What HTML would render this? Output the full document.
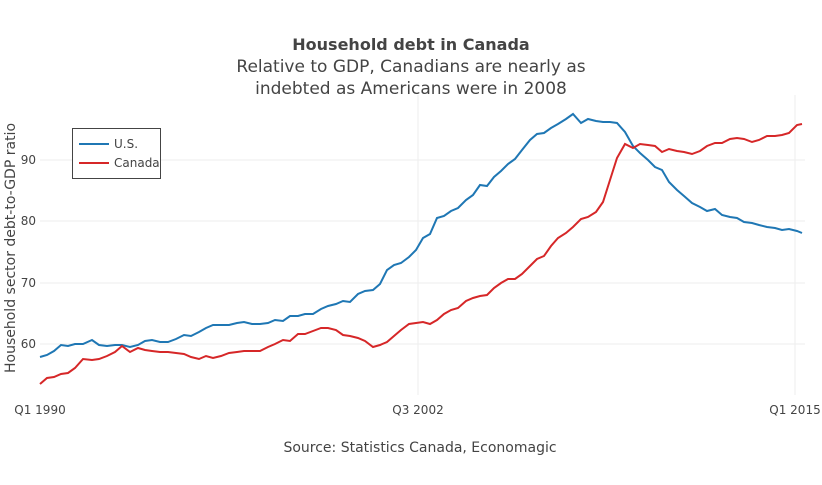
<!DOCTYPE html>
<html><head><meta charset="utf-8"><style>
body{margin:0;background:#fff;}
svg text{font-family:"DejaVu Sans","Liberation Sans",sans-serif;}
</style></head><body>
<svg width="822" height="480" xmlns="http://www.w3.org/2000/svg">
<rect width="822" height="480" fill="#fff"/>
<g stroke="#eee" stroke-width="1">
<line x1="40" x2="805" y1="160" y2="160"/>
<line x1="40" x2="805" y1="221" y2="221"/>
<line x1="40" x2="805" y1="283" y2="283"/>
<line x1="40" x2="805" y1="344" y2="344"/>
<line x1="418" x2="418" y1="95" y2="395"/>
<line x1="795" x2="795" y1="95" y2="395"/>
</g>
<text x="411" y="50" text-anchor="middle" font-size="16" font-weight="bold" fill="#444">Household debt in Canada</text>
<text x="411" y="72" text-anchor="middle" font-size="17" fill="#444">Relative to GDP, Canadians are nearly as</text>
<text x="411" y="94" text-anchor="middle" font-size="17" fill="#444">indebted as Americans were in 2008</text>
<g font-size="12" fill="#444" text-anchor="end">
<text x="36" y="164">90</text><text x="36" y="225">80</text><text x="36" y="287">70</text><text x="36" y="348">60</text>
</g>
<g font-size="12" fill="#444" text-anchor="middle">
<text x="40" y="414">Q1 1990</text><text x="418" y="414">Q3 2002</text><text x="795" y="414">Q1 2015</text>
</g>
<text transform="translate(15,248) rotate(-90)" text-anchor="middle" font-size="14" fill="#444">Household sector debt-to-GDP ratio</text>
<text x="420" y="452" text-anchor="middle" font-size="14" fill="#444">Source: Statistics Canada, Economagic</text>
<polyline fill="none" stroke="#1f77b4" stroke-width="2" points="40,357 47,355 54,351 61,345 68,346 75,344 83,344 92,340 99,345 107,346 115,345 122,345 130,347 138,345 145,341 152,340 160,342 168,342 176,339 184,335 191,336 199,332 206,328 213,325 221,325 229,325 237,323 244,322 252,324 260,324 268,323 275,320 283,321 290,316 298,316 305,314 313,314 321,309 328,306 336,304 343,301 350,302 358,294 365,291 373,290 380,284 387,270 394,265 401,263 409,257 416,250 423,238 430,234 437,218 444,216 451,211 458,208 466,200 473,195 480,185 487,186 494,177 501,171 508,164 515,159 522,150 530,140 537,134 544,133 551,128 558,124 566,119 573,114 581,123 588,119 596,121 603,122 610,122 617,123 625,132 633,146 640,153 648,160 655,167 662,170 669,182 677,190 684,196 692,203 700,207 707,211 715,209 722,215 730,217 737,218 744,222 752,223 759,225 767,227 775,228 782,230 789,229 797,231 802,233"/>
<polyline fill="none" stroke="#d62728" stroke-width="2" points="40,384 47,378 54,377 61,374 68,373 75,368 83,359 92,360 99,359 107,356 115,352 122,346 130,352 138,348 145,350 152,351 160,352 168,352 176,353 184,354 191,357 199,359 206,356 213,358 221,356 229,353 237,352 244,351 252,351 260,351 268,347 275,344 283,340 290,341 298,334 305,334 313,331 321,328 328,328 336,330 343,335 350,336 358,338 365,341 373,347 380,345 387,342 394,336 401,330 409,324 416,323 423,322 430,324 437,320 444,314 451,310 458,308 466,301 473,298 480,296 487,295 494,288 501,283 508,279 515,279 522,274 530,266 537,259 544,256 551,246 558,238 566,233 573,227 581,219 588,217 596,212 603,202 610,180 617,158 625,144 633,148 640,144 648,145 655,146 662,152 669,149 677,151 684,152 692,154 700,151 707,146 715,143 722,143 730,139 737,138 744,139 752,142 759,140 767,136 775,136 782,135 789,133 797,125 802,124"/>
<rect x="72.5" y="128.5" width="88" height="50" fill="#fff" stroke="#444" stroke-width="1"/>
<line x1="79" x2="109" y1="144" y2="144" stroke="#1f77b4" stroke-width="2"/>
<text x="114" y="148" font-size="12" fill="#444">U.S.</text>
<line x1="79" x2="109" y1="163" y2="163" stroke="#d62728" stroke-width="2"/>
<text x="114" y="167" font-size="12" fill="#444">Canada</text>
</svg>
</body></html>
